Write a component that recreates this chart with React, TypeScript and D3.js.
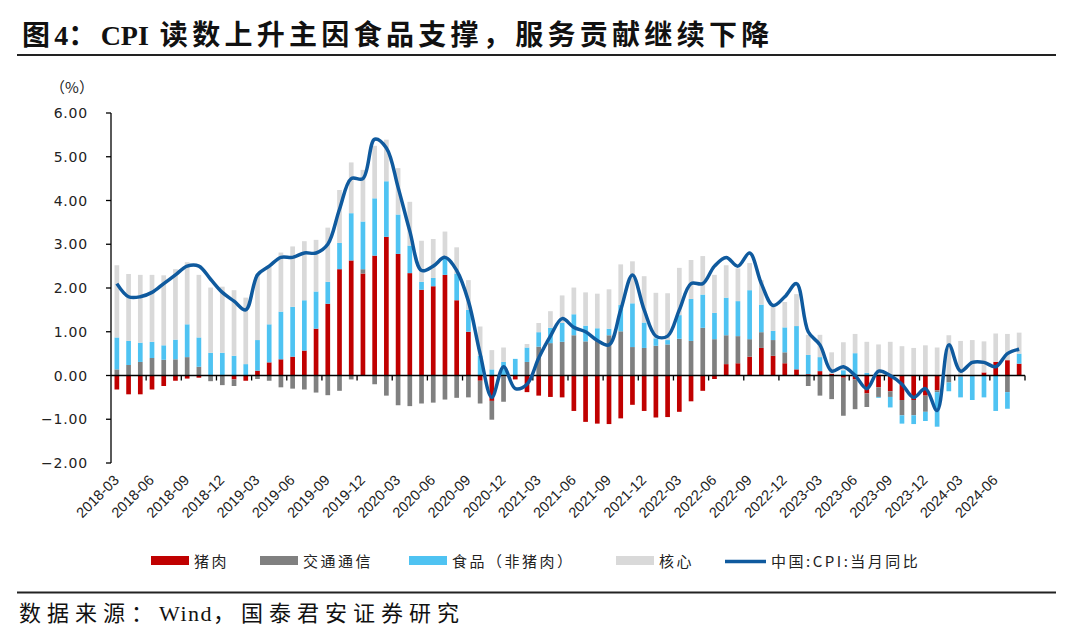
import React, { useEffect, useRef } from "react";
import * as d3 from "d3";

// months 2018-03 .. 2024-08
const months = d3
    .timeMonths(new Date(2018, 2, 1), new Date(2024, 8, 1))
    .map(d3.timeFormat("%Y-%m"));

const tickLabels = [
    "2018-03", "2018-06", "2018-09", "2018-12", "2019-03", "2019-06", "2019-09",
    "2019-12", "2020-03", "2020-06", "2020-09", "2020-12", "2021-03", "2021-06",
    "2021-09", "2021-12", "2022-03", "2022-06", "2022-09", "2022-12", "2023-03",
    "2023-06", "2023-09", "2023-12", "2024-03", "2024-06",
];

const yTicks = [6, 5, 4, 3, 2, 1, 0, -1, -2];

// contributions, pct points
const pork = [
    -0.32, -0.43, -0.43, -0.32, -0.24, -0.12, -0.07, -0.05, 0, 0,
    -0.09, -0.12, 0.11, 0.3, 0.37, 0.43, 0.57, 1.07, 1.64, 2.43, 2.63, 2.33,
    2.74, 3.17, 2.78, 2.34, 1.96, 2.04, 2.3, 1.72, 1.0, -0.12, -0.58, -0.02,
    -0.09, -0.38, -0.46, -0.49, -0.5, -0.81, -1.06, -1.1, -1.11, -0.98, -0.67, -0.81,
    -0.96, -0.95, -0.83, -0.59, -0.35, -0.08, 0.26, 0.28, 0.43, 0.63, 0.45, 0.28,
    0.14, 0.03, 0.1, 0.04, -0.05, -0.09, -0.41, -0.27, -0.36, -0.56, -0.56, -0.46,
    -0.34, 0, -0.02, 0, 0.07, 0.31, 0.35, 0.27,
];

const transport = [
    0.14, 0.24, 0.31, 0.4, 0.36, 0.37, 0.42, 0.2, -0.13, -0.22,
    -0.15, 0, -0.08, -0.12, -0.27, -0.3, -0.32, -0.39, -0.45, -0.35, -0.09, 0.1,
    -0.2, -0.46, -0.68, -0.7, -0.64, -0.62, -0.55, -0.51, -0.5, -0.52, -0.43, -0.58,
    0, 0.31, 0.66, 0.74, 0.77, 0.92, 0.78, 0.8, 0.92, 1.01, 0.65, 0.63,
    0.68, 0.71, 0.84, 0.79, 1.09, 0.83, 0.66, 0.62, 0.4, 0.36, 0.36, 0.25,
    0, -0.24, -0.46, -0.54, -0.87, -0.68, -0.31, -0.22, -0.13, -0.35, -0.35, -0.37,
    -0.04, -0.16, 0, 0, 0, 0, -0.38, 0,
];

const food = [
    0.73, 0.55, 0.44, 0.37, 0.33, 0.45, 0.75, 0.67, 0.52, 0.52,
    0.45, 0.26, 0.7, 0.87, 1.09, 1.14, 1.15, 0.85, 0.5, 0.6, 1.08, 1.09,
    1.31, 1.27, 0.9, 0.63, 0.18, 0.19, 0.4, 0.61, 0.5, 0.45, 0.14, 0.31,
    0.38, 0.33, 0.33, 0.35, 0.43, 0.48, 0.36, 0.28, 0.15, 0.6, 1.0, 0.58,
    0.17, 0.1, 0.54, 0.96, 0.76, 0.6, 0.86, 0.8, 1.12, 0.63, 0.21, 0.57,
    0.99, 0.44, 0.32, 0, 0.12, 0.51, 0.06, -0.02, -0.24, -0.19, -0.2, -0.21,
    -0.79, -0.2, -0.48, -0.56, -0.5, -0.81, -0.38, 0.23,
];

const core = [
    1.65, 1.53, 1.55, 1.53, 1.6, 1.61, 1.42, 1.43, 1.49, 1.51,
    1.5, 1.52, 1.5, 1.32, 1.35, 1.38, 1.35, 1.18, 1.24, 1.21, 1.16, 1.18,
    1.2, 0.95, 1.06, 1.0, 0.94, 0.89, 0.59, 0.6, 0.68, 0.67, 0.44, 0.33,
    0, 0.08, 0.21, 0.38, 0.63, 0.61, 0.76, 0.79, 0.9, 0.93, 0.96, 1.06,
    1.04, 1.07, 1.08, 0.89, 0.88, 0.87, 0.74, 0.75, 0.62, 0.56, 0.58, 0.58,
    0.73, 0.46, 0.51, 0.49, 0.64, 0.44, 0.71, 0.71, 0.77, 0.67, 0.63, 0.69,
    0.64, 0.92, 0.79, 0.81, 0.71, 0.65, 0.6, 0.48,
];

// China CPI YoY
const cpi = [
    2.1, 1.8, 1.8, 1.9, 2.1, 2.3, 2.5, 2.5, 2.2, 1.9,
    1.7, 1.5, 2.3, 2.5, 2.7, 2.7, 2.8, 2.8, 3.0, 3.8, 4.5, 4.5,
    5.4, 5.2, 4.3, 3.3, 2.4, 2.5, 2.7, 2.4, 1.7, 0.5, -0.5, 0.2,
    -0.3, -0.2, 0.4, 0.9, 1.3, 1.1, 1.0, 0.8, 0.7, 1.5, 2.3, 1.5,
    0.9, 0.9, 1.5, 2.1, 2.1, 2.5, 2.7, 2.5, 2.8, 2.1, 1.6, 1.8,
    2.1, 1.0, 0.7, 0.1, 0.2, 0.0, -0.3, 0.1, 0.0, -0.2, -0.5, -0.3,
    -0.8, 0.7, 0.1, 0.3, 0.3, 0.2, 0.5, 0.6,
];

const keys = ["pork", "transport", "food", "core"];
const colors: Record<string, string> = {
    pork: "#C00000",
    transport: "#808080",
    food: "#4FC3F2",
    core: "#D9D9D9",
};
const lineColor = "#0F5A9E";

const legendItems = [
    { label: "猪肉", key: "pork", x: 151 },
    { label: "交通通信", key: "transport", x: 260 },
    { label: "食品（非猪肉）", key: "food", x: 409 },
    { label: "核心", key: "core", x: 616 },
    { label: "中国:CPI:当月同比", key: "cpi", x: 725 },
];

// text pieces: CJK runs are spaced, latin runs are not
const titleParts = [
    { t: "图", ls: 4.3, dx: 0 },
    { t: "4", ls: 0, dx: 0 },
    { t: "：", ls: 4.3, dx: 0 },
    { t: "CPI", ls: 0, dx: 0 },
    { t: "读数上升主因食品支撑，服务贡献继续下降", ls: 4.3, dx: 11 },
];
const sourceParts = [
    { t: "数据来源：", ls: 6, dx: 0 },
    { t: "Wind", ls: 1.5, dx: 0 },
    { t: "，国泰君安证券研究", ls: 6, dx: 0 },
];

const W = 1080;
const H = 635;

const App: React.FC = () => {
    const svgRef = useRef<SVGSVGElement>(null);

    useEffect(() => {
        if (!svgRef.current) return;
        const svg = d3.select(svgRef.current);
        svg.selectAll("*").remove();

        const left = 111;
        const right = 1025;
        const top = 113;
        const bottom = 463;

        const y = d3.scaleLinear().domain([-2, 6]).range([bottom, top]);
        const x = d3
            .scaleBand<string>()
            .domain(months)
            .range([left, right])
            .paddingInner(0.6)
            .paddingOuter(0.3);
        const idx = d3.scaleLinear().domain([0, months.length]).range([left, right]);

        const rows = months.map((m, i) => ({
            month: m,
            pork: pork[i],
            transport: transport[i],
            food: food[i],
            core: core[i],
        }));

        const series = d3
            .stack<any>()
            .keys(keys)
            .offset(d3.stackOffsetDiverging)(rows);

        // title
        const title = svg.append("text")
            .attr("x", 22)
            .attr("y", 45)
            .attr("font-family", "'Liberation Serif', 'Noto Sans CJK SC', serif")
            .attr("font-weight", "bold")
            .attr("font-size", 28)
            .attr("fill", "#111");
        titleParts.forEach((p) => {
            title.append("tspan")
                .attr("letter-spacing", p.ls)
                .attr("dx", p.dx)
                .text(p.t);
        });

        svg.append("line")
            .attr("x1", 17).attr("x2", 1056)
            .attr("y1", 55).attr("y2", 55)
            .attr("stroke", "#222").attr("stroke-width", 2);

        // unit
        svg.append("text")
            .attr("x", 72)
            .attr("y", 93)
            .attr("text-anchor", "middle")
            .attr("font-family", "'Noto Sans CJK SC', sans-serif")
            .attr("font-size", 15)
            .attr("fill", "#222")
            .text("（%）");

        // bars
        svg.append("g")
            .selectAll("g")
            .data(series)
            .join("g")
            .attr("fill", (d) => colors[d.key])
            .selectAll("rect")
            .data((d) => d)
            .join("rect")
            .attr("x", (d) => x(d.data.month) as number)
            .attr("width", x.bandwidth())
            .attr("y", (d) => y(Math.max(d[0], d[1])))
            .attr("height", (d) => Math.abs(y(d[0]) - y(d[1])));

        // y axis
        const yAxis = svg.append("g").attr("transform", `translate(${left},0)`);
        yAxis.append("line")
            .attr("x1", 0).attr("x2", 0)
            .attr("y1", top).attr("y2", bottom)
            .attr("stroke", "#000").attr("stroke-width", 1.3);
        yAxis.selectAll("line.tick")
            .data(yTicks)
            .join("line")
            .attr("class", "tick")
            .attr("x1", -5).attr("x2", 0)
            .attr("y1", (d) => y(d)).attr("y2", (d) => y(d))
            .attr("stroke", "#000").attr("stroke-width", 1.3);
        yAxis.selectAll("text")
            .data(yTicks)
            .join("text")
            .attr("x", -23)
            .attr("y", (d) => y(d) + 5)
            .attr("text-anchor", "end")
            .attr("font-family", "'DejaVu Sans', sans-serif")
            .attr("font-size", 14)
            .attr("letter-spacing", 0.8)
            .attr("fill", "#222")
            .text((d) => d3.format(".2f")(d));

        // x axis at zero
        const zeroY = y(0);
        svg.append("line")
            .attr("x1", left).attr("x2", right)
            .attr("y1", zeroY).attr("y2", zeroY)
            .attr("stroke", "#000").attr("stroke-width", 1.3);
        const tickIdx = d3.range(3, months.length + 1, 3);
        svg.append("g")
            .selectAll("line")
            .data(tickIdx)
            .join("line")
            .attr("x1", (d) => idx(d)).attr("x2", (d) => idx(d))
            .attr("y1", zeroY).attr("y2", zeroY + 5)
            .attr("stroke", "#000").attr("stroke-width", 1.3);

        // category labels
        svg.append("g")
            .selectAll("text")
            .data(tickLabels)
            .join("text")
            .attr("transform", (d) => {
                const cx = (x(d) as number) + x.bandwidth() / 2 + 3;
                return `translate(${cx},481) rotate(-45)`;
            })
            .attr("text-anchor", "end")
            .attr("font-family", "'Liberation Sans', sans-serif")
            .attr("font-size", 14.5)
            .attr("fill", "#222")
            .text((d) => d);

        // CPI line
        const line = d3
            .line<number>()
            .x((_, i) => (x(months[i]) as number) + x.bandwidth() / 2)
            .y((d) => y(d))
            .curve(d3.curveCatmullRom.alpha(0.5));
        svg.append("path")
            .datum(cpi)
            .attr("fill", "none")
            .attr("stroke", lineColor)
            .attr("stroke-width", 3.5)
            .attr("stroke-linejoin", "round")
            .attr("d", line);

        // legend
        const lg = svg.append("g");
        legendItems.forEach((item) => {
            if (item.key === "cpi") {
                lg.append("line")
                    .attr("x1", item.x).attr("x2", item.x + 41)
                    .attr("y1", 561.5).attr("y2", 561.5)
                    .attr("stroke", lineColor).attr("stroke-width", 3.5);
            } else {
                lg.append("rect")
                    .attr("x", item.x).attr("y", 556)
                    .attr("width", 38).attr("height", 9)
                    .attr("fill", colors[item.key]);
            }
            lg.append("text")
                .attr("x", item.x + (item.key === "cpi" ? 46 : 43))
                .attr("y", 567)
                .attr("font-family", "'Noto Sans CJK SC', sans-serif")
                .attr("font-size", 15)
                .attr("letter-spacing", 2.5)
                .attr("fill", "#222")
                .text(item.label);
        });

        // bottom rule and source
        svg.append("line")
            .attr("x1", 17).attr("x2", 1056)
            .attr("y1", 592.5).attr("y2", 592.5)
            .attr("stroke", "#222").attr("stroke-width", 2);
        const source = svg.append("text")
            .attr("x", 19)
            .attr("y", 621)
            .attr("font-family", "'Liberation Serif', 'Noto Sans CJK SC', serif")
            .attr("font-size", 22)
            .attr("fill", "#111");
        sourceParts.forEach((p) => {
            source.append("tspan")
                .attr("letter-spacing", p.ls)
                .attr("dx", p.dx)
                .text(p.t);
        });
    }, []);

    return (
        <svg
            ref={svgRef}
            width={W}
            height={H}
            style={{ position: "absolute", left: 0, top: 0, background: "#fff" }}
        ></svg>
    );
};

export default App;
